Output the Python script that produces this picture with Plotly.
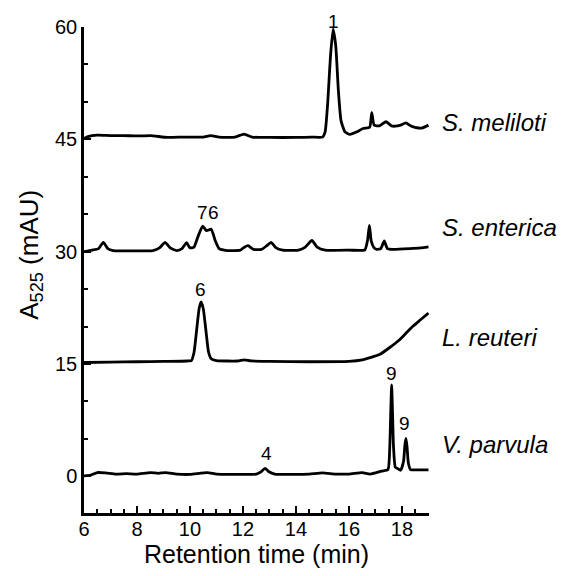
import plotly.graph_objects as go

# Retention times (min) and absorbance relative to each trace's baseline (mAU)
meliloti_t = [6.0, 6.15, 6.5, 7.0, 7.5, 8.0, 8.5, 9.15, 9.8, 10.5, 10.78, 11.1, 11.7, 12.04, 12.35, 13.0, 14.0, 14.6, 15.0,
              15.1, 15.2, 15.3, 15.4, 15.5, 15.6, 15.7, 15.85, 16.04, 16.3, 16.53, 16.78, 16.86, 16.95, 17.15, 17.4, 17.6,
              17.74, 17.95, 18.15, 18.32, 18.49, 18.75, 19.0]
meliloti_v = [0.1, 0.35, 0.55, 0.5, 0.5, 0.45, 0.5, 0.25, 0.3, 0.3, 0.5, 0.3, 0.3, 0.7, 0.3, 0.25, 0.25, 0.3, 0.3,
              1.0, 5.0, 11.0, 14.7, 12.5, 6.5, 2.5, 1.0, 0.65, 1.0, 1.45, 1.6, 3.55, 1.9, 1.8, 2.35, 1.8,
              1.75, 1.9, 2.2, 1.8, 1.6, 1.5, 1.9]

enterica_t = [6.0, 6.3, 6.55, 6.73, 6.9, 7.1, 8.0, 8.6, 8.85, 9.06, 9.25, 9.5, 9.7, 9.87, 10.0, 10.15, 10.3, 10.48, 10.62,
              10.8, 10.95, 11.1, 11.4, 11.9, 12.05, 12.19, 12.4, 12.7, 12.9, 13.06, 13.25, 13.5, 14.1, 14.35, 14.6, 14.8,
              15.1, 16.0, 16.6, 16.7, 16.77, 16.84, 16.95, 17.05, 17.2, 17.33, 17.45, 17.67, 18.3, 18.7, 19.0]
enterica_v = [0.0, 0.2, 0.4, 1.25, 0.4, 0.15, 0.1, 0.15, 0.5, 1.25, 0.5, 0.15, 0.4, 1.2, 0.5, 0.6, 2.0, 3.4, 2.8,
              3.0, 1.5, 0.4, 0.15, 0.2, 0.6, 0.8, 0.3, 0.3, 0.8, 1.25, 0.5, 0.2, 0.2, 0.6, 1.5, 0.6,
              0.2, 0.2, 0.25, 1.5, 3.5, 1.4, 0.5, 0.3, 0.4, 1.45, 0.4, 0.3, 0.4, 0.5, 0.65]

reuteri_t = [6.0, 7.0, 8.0, 9.0, 9.9, 10.05, 10.15, 10.25, 10.35, 10.42, 10.5, 10.6, 10.7, 10.8, 11.0, 11.8, 12.05, 12.3,
             13.0, 14.5, 16.0, 16.5, 16.8, 17.17, 17.5, 17.9, 18.15, 18.4, 18.7, 19.0]
reuteri_v = [0.2, 0.25, 0.3, 0.35, 0.4, 0.45, 1.5, 4.5, 7.5, 8.3, 7.4, 4.5, 1.6, 0.7, 0.45, 0.4, 0.55, 0.4,
             0.35, 0.3, 0.35, 0.55, 0.85, 1.3, 2.1, 3.2, 4.1, 5.0, 5.9, 6.8]

parvula_t = [6.0, 6.25, 6.5, 6.82, 7.2, 7.6, 8.0, 8.5, 8.8, 9.08, 9.5, 10.0, 10.65, 11.0, 11.5, 12.0, 12.5, 12.68, 12.83,
             12.98, 13.2, 14.0, 14.5, 15.0, 15.5, 16.0, 16.5, 16.8, 17.23, 17.47, 17.54, 17.58, 17.61, 17.64, 17.68,
             17.75, 17.85, 17.95, 18.06, 18.11, 18.15, 18.19, 18.24, 18.32, 18.6, 19.0]
parvula_v = [0.05, 0.15, 0.5, 0.45, 0.3, 0.35, 0.3, 0.5, 0.4, 0.5, 0.3, 0.25, 0.5, 0.3, 0.25, 0.25, 0.3, 0.6, 1.07,
             0.6, 0.3, 0.25, 0.3, 0.45, 0.3, 0.3, 0.5, 0.3, 0.7, 0.9, 4.0, 9.0, 12.2, 9.0, 4.0,
             1.2, 1.0, 0.8, 2.0, 4.2, 5.05, 4.0, 1.8, 0.9, 0.85, 0.85]

species = ["S. meliloti", "S. enterica", "L. reuteri", "V. parvula"]
offsets = [45, 30, 15, 0]
label_y = [47.2, 33.2, 18.6, 4.2]

peak_labels = ["1", "7", "6", "6", "4", "9", "9"]
peak_x = [15.4, 10.48, 10.87, 10.38, 12.87, 17.61, 18.11]
peak_y = [60.7, 35.2, 35.2, 24.9, 2.98, 13.75, 7.08]

series = [(meliloti_t, meliloti_v), (enterica_t, enterica_v), (reuteri_t, reuteri_v), (parvula_t, parvula_v)]

X_RANGE = [6, 19.02]
Y_RANGE = [-4.9, 60]

fig = go.Figure()
for (t, v), off, name in zip(series, offsets, species):
    fig.add_trace(go.Scatter(
        x=t, y=[val + off for val in v], mode="lines", name=name,
        line=dict(color="black", width=2.8, shape="spline", smoothing=0.5),
        showlegend=False, hoverinfo="skip",
    ))

FONT = "Liberation Sans, Arial, sans-serif"


def ypaper(y):
    return (y - Y_RANGE[0]) / (Y_RANGE[1] - Y_RANGE[0])


for name, y in zip(species, label_y):
    fig.add_annotation(x=1.032, xref="paper", y=ypaper(y), yref="paper", text=f"<i>{name}</i>",
                       showarrow=False, xanchor="left", yanchor="middle",
                       font=dict(family=FONT, size=24, color="black"))
for lab, x, y in zip(peak_labels, peak_x, peak_y):
    fig.add_annotation(x=x, y=ypaper(y), yref="paper", text=lab, showarrow=False,
                       xanchor="center", yanchor="middle",
                       font=dict(family=FONT, size=19, color="black"))

# y-axis title as a rotated annotation (placed like the reference)
fig.add_annotation(x=-0.154, xref="paper", y=0.531, yref="paper", text="A<sub>525</sub> (mAU)",
                   textangle=-90, showarrow=False, xanchor="center", yanchor="middle",
                   font=dict(family=FONT, size=26, color="black"))

# page body adds an 8px margin, so margins are shifted by that amount
fig.update_layout(
    width=559, height=560,
    margin=dict(l=76, r=138, t=19, b=55),
    plot_bgcolor="white", paper_bgcolor="white",
    font=dict(family=FONT, size=20, color="black"),
)
fig.update_xaxes(
    range=X_RANGE, tickmode="array", tickvals=[6, 8, 10, 12, 14, 16, 18],
    ticks="inside", ticklen=7, tickwidth=2, tickcolor="black",
    minor=dict(dtick=0.5, ticks="inside", ticklen=4, tickwidth=2, tickcolor="black"),
    showline=True, linewidth=2.5, linecolor="black", mirror=False,
    showgrid=False, zeroline=False, automargin=False,
    tickfont=dict(size=20), ticklabelstandoff=-4,
    title=dict(text="Retention time (min)", font=dict(size=25), standoff=2),
)
fig.update_yaxes(
    range=Y_RANGE, tickmode="array", tickvals=[0, 15, 30, 45, 60],
    ticks="inside", ticklen=7, tickwidth=2, tickcolor="black",
    minor=dict(tickvals=[5, 10, 20, 25, 35, 40, 50, 55], ticks="inside", ticklen=4, tickwidth=2, tickcolor="black"),
    showline=True, linewidth=2.5, linecolor="black", mirror=False,
    showgrid=False, zeroline=False, automargin=False,
    tickfont=dict(size=20),
)

fig.write_html("out.html")
